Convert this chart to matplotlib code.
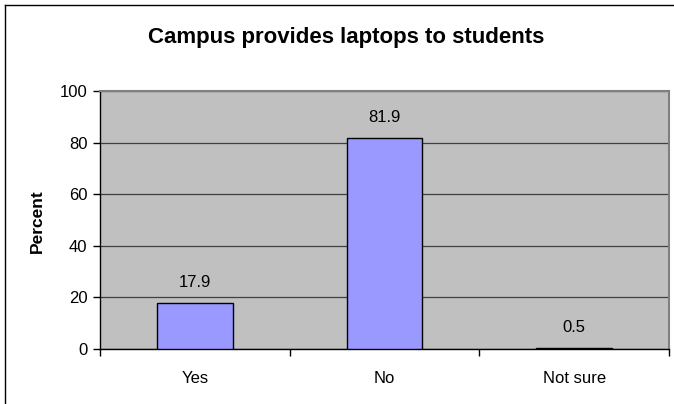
import matplotlib
matplotlib.use("Agg")
import matplotlib.pyplot as plt
from matplotlib.lines import Line2D

categories = ["Yes", "No", "Not sure"]
percent = [17.9, 81.9, 0.5]
y_ticks = [0, 20, 40, 60, 80, 100]

plt.rcParams["font.family"] = ["Liberation Sans", "DejaVu Sans"]

W, H = 674, 404
fig = plt.figure(figsize=(W / 100, H / 100), dpi=100)

# chart-area frame: left and top edges
fx, fy = 4.5 / W, 1 - 4.5 / H
fig.add_artist(Line2D([fx, fx], [0.0, fy], transform=fig.transFigure, color="black", linewidth=1.0))
fig.add_artist(Line2D([fx, 1.0], [fy, fy], transform=fig.transFigure, color="black", linewidth=1.0))

left, right, top, bottom = 100, 669, 91, 349
ax = fig.add_axes([left / W, 1 - bottom / H, (right - left) / W, (bottom - top) / H])
ax.set_facecolor("#C0C0C0")

x = list(range(len(categories)))
ax.bar(x, percent, width=0.4, color="#9999FF", edgecolor="black", linewidth=1.0, zorder=3)
for xi, v in zip(x, percent):
    ax.annotate(f"{v}", (xi, v), xytext=(0, 14.5), textcoords="offset points",
                ha="center", va="center", fontsize=12)

ax.set_xlim(-0.5, len(categories) - 0.5)
ax.set_ylim(0, 100)
ax.set_yticks(y_ticks)
ax.yaxis.grid(True, color="#404040", linewidth=0.9, zorder=1)
ax.set_axisbelow(True)

ax.set_xticks(x)
ax.set_xticklabels(categories, fontsize=12)
ax.tick_params(axis="x", which="major", length=0, pad=16)
ax.set_xticks([i - 0.5 for i in range(len(categories) + 1)], minor=True)
ax.tick_params(axis="x", which="minor", length=5, width=1, color="black", direction="out")
ax.tick_params(axis="y", length=5, width=1, color="black", labelsize=12, pad=4)

for side in ("top", "right"):
    ax.spines[side].set_color("#808080")
    ax.spines[side].set_linewidth(1.5)
for side in ("left", "bottom"):
    ax.spines[side].set_color("black")
    ax.spines[side].set_linewidth(1.0)

fig.text(37 / W, 1 - 221 / H, "Percent", rotation=90, ha="center", va="center",
         fontsize=12.5, fontweight="bold")
fig.text(346 / W, 1 - 38 / H, "Campus provides laptops to students",
         ha="center", va="center", fontsize=16, fontweight="bold")

fig.savefig("out.png", dpi=100)
